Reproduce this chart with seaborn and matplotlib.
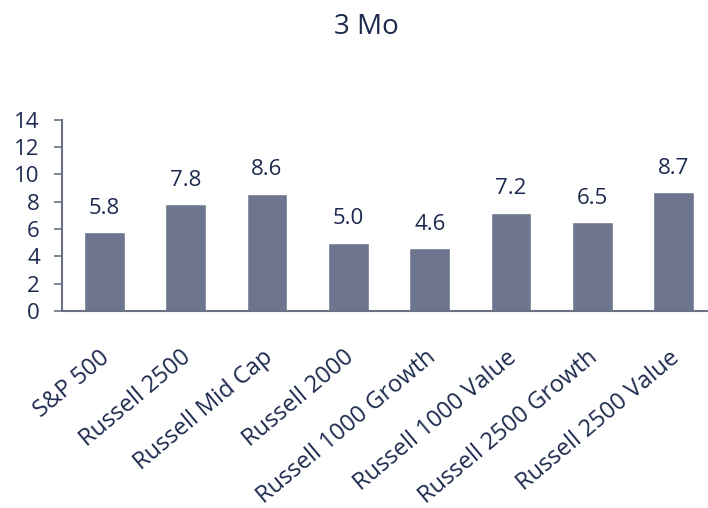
import matplotlib
matplotlib.use("Agg")
import matplotlib.pyplot as plt
import matplotlib.transforms as mtrans
import seaborn as sns
import pandas as pd

categories = ["S&P 500", "Russell 2500", "Russell Mid Cap", "Russell 2000",
              "Russell 1000 Growth", "Russell 1000 Value", "Russell 2500 Growth",
              "Russell 2500 Value"]
values = [5.8, 7.8, 8.6, 5.0, 4.6, 7.2, 6.5, 8.7]
yticks = [0, 2, 4, 6, 8, 10, 12, 14]
title = "3 Mo"

sns.set_theme(style="white")
plt.rcParams['font.family'] = ['Open Sans', 'DejaVu Sans']

TEXT = "#1c2a4d"
BAR = "#6e768f"
AX = "#6b7185"

df = pd.DataFrame({"cat": categories, "val": values})

fig = plt.figure(figsize=(7.08, 5.08), dpi=100)
ax = fig.add_axes([0.0876, 0.388, 0.9124, 0.376])
sns.barplot(data=df, x="cat", y="val", color=BAR, width=0.5, saturation=1, ax=ax)

ax.set_ylim(0, 14)
ax.set_yticks(yticks)
ax.set_xlim(-0.52, 7.42)
ax.set_xlabel("")
ax.set_ylabel("")
for s in ["top", "right"]:
    ax.spines[s].set_visible(False)
for s in ["left", "bottom"]:
    ax.spines[s].set_color(AX)
    ax.spines[s].set_linewidth(1.5)
ax.tick_params(axis="y", direction="out", length=6, width=1.2, color=AX,
               labelsize=16, labelcolor=TEXT, pad=10, left=True)
ax.tick_params(axis="x", length=0, labelsize=17, labelcolor=TEXT, pad=25)
offset = mtrans.ScaledTranslation(-5 / 100, 0, fig.dpi_scale_trans)
for lab in ax.get_xticklabels():
    lab.set_rotation(40)
    lab.set_ha("right")
    lab.set_rotation_mode("anchor")
    lab.set_transform(lab.get_transform() + offset)

for i, v in enumerate(values):
    ax.annotate(f"{v:.1f}", (i, v), xytext=(0, 9.5), textcoords="offset points",
                ha="center", va="bottom", fontsize=16, color=TEXT)

fig.suptitle(title, x=0.517, y=0.975, fontsize=20, color=TEXT)

fig.savefig("out.png", dpi=100)
